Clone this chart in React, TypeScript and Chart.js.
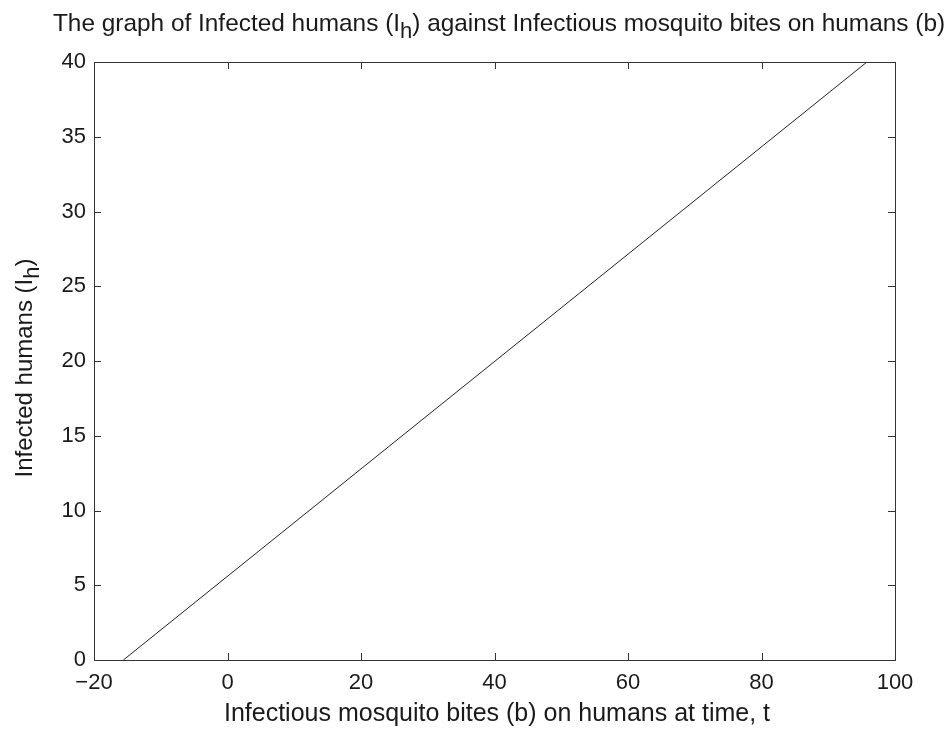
import React, { useEffect, useRef } from "react";
import { Chart, registerables } from "chart.js";

Chart.register(...registerables);

// Data (straight line)
const bites = [-15.6, 95.8];
const infected = [0, 40];

const xMin = -20;
const xMax = 100;
const xStep = 20;
const yMin = 0;
const yMax = 40;
const yStep = 5;

const titleParts = ["The graph of Infected humans (I", "h", ") against Infectious mosquito bites on humans (b)"];
const yTitleParts = ["Infected humans (I", "h", ")"];
const xTitleText = "Infectious mosquito bites (b) on humans at time, t";

const FONT = "'Liberation Sans', Arial, Helvetica, sans-serif";
const INK = "#1a1a1a";

function drawParts(ctx: CanvasRenderingContext2D, parts: string[], size: number, subShift: number) {
  const mainFont = `${size}px ${FONT}`;
  const subFont = `${Math.round(size * 0.9)}px ${FONT}`;
  const widths: number[] = parts.map((p, i) => {
    ctx.font = i === 1 ? subFont : mainFont;
    return ctx.measureText(p).width;
  });
  const total = widths.reduce((a, b) => a + b, 0);
  let x = -total / 2;
  parts.forEach((p, i) => {
    ctx.font = i === 1 ? subFont : mainFont;
    ctx.fillText(p, x, i === 1 ? subShift : 0);
    x += widths[i];
  });
}

const framePlugin = {
  id: "matlabFrame",
  afterDraw(chart: any) {
    const { ctx, chartArea } = chart;
    const xs = chart.scales.x;
    const ys = chart.scales.y;
    const { left, right, top, bottom } = chartArea;
    ctx.save();
    ctx.strokeStyle = "#333";
    ctx.lineWidth = 1;
    ctx.strokeRect(Math.round(left) + 0.5, Math.round(top) + 0.5, Math.round(right - left), Math.round(bottom - top));
    const tl = 7;
    ctx.beginPath();
    xs.ticks.forEach((t: any) => {
      const px = Math.round(xs.getPixelForValue(t.value)) + 0.5;
      ctx.moveTo(px, bottom);
      ctx.lineTo(px, bottom - tl);
      ctx.moveTo(px, top);
      ctx.lineTo(px, top + tl);
    });
    ys.ticks.forEach((t: any) => {
      const py = Math.round(ys.getPixelForValue(t.value)) + 0.5;
      ctx.moveTo(left, py);
      ctx.lineTo(left + tl, py);
      ctx.moveTo(right, py);
      ctx.lineTo(right - tl, py);
    });
    ctx.stroke();

    // Titles
    ctx.fillStyle = INK;
    ctx.textBaseline = "middle";
    ctx.textAlign = "left";
    const cx = (left + right) / 2;
    ctx.save();
    ctx.translate(cx + 4.5, 24);
    drawParts(ctx, titleParts, 24.4, 8);
    ctx.restore();

    ctx.save();
    ctx.translate(25, (top + bottom) / 2 + 7);
    ctx.rotate(-Math.PI / 2);
    drawParts(ctx, yTitleParts, 24, 8);
    ctx.restore();

    ctx.font = `25px ${FONT}`;
    ctx.textAlign = "center";
    ctx.fillText(xTitleText, cx + 2.5, 714);
    ctx.restore();
  },
};

export default function App() {
  const ref = useRef<HTMLCanvasElement | null>(null);
  useEffect(() => {
    document.body.style.margin = "0";
    const canvas = ref.current;
    if (!canvas) return;
    const chart = new Chart(canvas, {
      type: "line",
      data: {
        datasets: [
          {
            data: bites.map((b, i) => ({ x: b, y: infected[i] })),
            borderColor: "#222",
            borderWidth: 1,
            pointRadius: 0,
            tension: 0,
            fill: false,
          },
        ],
      },
      options: {
        animation: false,
        responsive: false,
        devicePixelRatio: 1,
        layout: { padding: { left: 0, top: 62, right: 54, bottom: 0 } },
        plugins: { legend: { display: false }, tooltip: { enabled: false }, title: { display: false } },
        scales: {
          x: {
            type: "linear",
            min: xMin,
            max: xMax,
            grid: { display: false, drawTicks: false },
            border: { display: false },
            ticks: {
              stepSize: xStep,
              padding: 10,
              color: INK,
              font: { family: FONT, size: 22 },
              maxRotation: 0,
              callback: (v: any) => (Number(v) < 0 ? "\u2212" + Math.abs(Number(v)) : String(v)),
            },
            afterFit: (s: any) => {
              s.height = 94;
            },
          },
          y: {
            type: "linear",
            min: yMin,
            max: yMax,
            grid: { display: false, drawTicks: false },
            border: { display: false },
            ticks: {
              stepSize: yStep,
              padding: 8,
              color: INK,
              font: { family: FONT, size: 22 },
            },
            afterFit: (s: any) => {
              s.width = 94;
            },
          },
        },
      },
      plugins: [framePlugin],
    } as any);
    return () => chart.destroy();
  }, []);
  return <canvas ref={ref} width={949} height={754} style={{ display: "block" }} />;
}
